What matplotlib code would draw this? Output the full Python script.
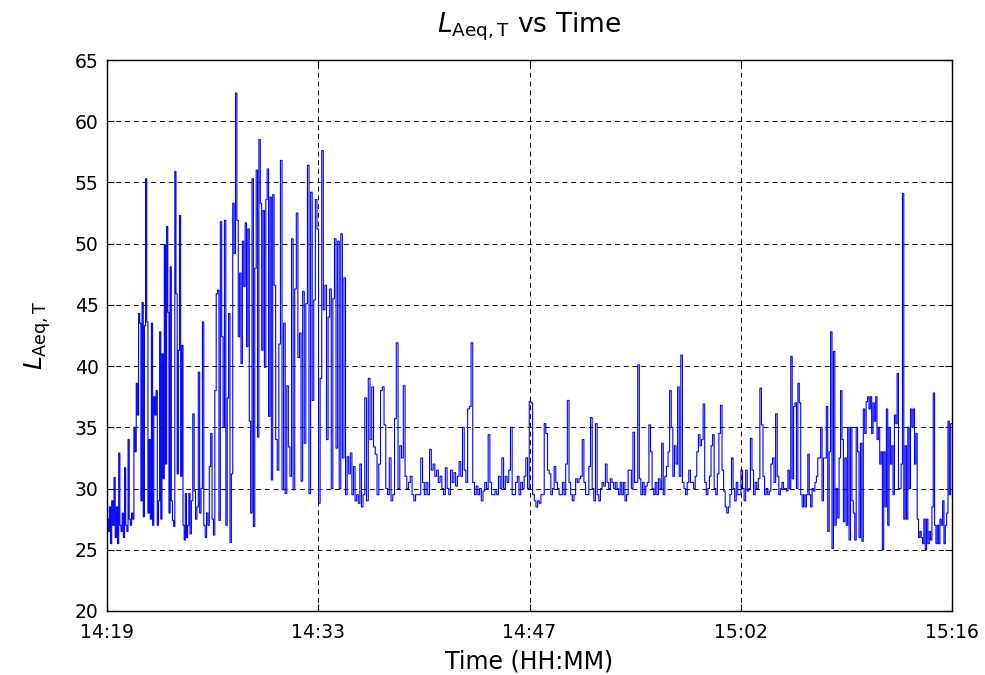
import numpy as np
import matplotlib.pyplot as plt

# LAeq,T readings, split into ten consecutive stretches of the recording.
# seg_edges are the stretch limits in minutes after 14:19.
seg_edges = [0.0, 5.60, 11.27, 17.27, 22.94, 28.60, 34.40, 40.00, 45.74, 51.40, 57.0]

seg1 = [27.5, 26.5, 28.5, 25.5, 29, 27, 30.9, 26, 28.5, 25.5, 32.9, 27, 26.5, 28, 26, 31.7,
        27, 26.5, 34, 27.5, 27, 28, 27.5, 35, 33, 38.6, 36, 44.3, 43.5, 29, 45.2, 27.7, 43.3,
        55.3, 43.6, 28, 34, 27.5, 43.5, 27, 37.5, 36, 38, 27, 29, 42.8, 27.5, 41, 30.8, 49.9,
        32, 51.4, 44.4, 28, 48.1, 29, 27.4, 26.9, 55.9, 45.9, 31.2, 41.3, 52.3, 31, 41.7, 27,
        25.8, 29.6, 26, 27, 29.6]
seg2 = [26.3, 29, 36.1, 29.8, 27.5, 28.5, 39.5, 28, 30, 43.6, 27, 26, 28, 27, 31.8, 34.5,
        27.5, 26.2, 38, 45.9, 46.2, 27.4, 51.8, 42.4, 35, 51.9, 27, 37.4, 44.3, 25.6, 31.2,
        53.3, 49.2, 62.3, 51.9, 42.4, 47.6, 40.2, 50.2, 46.5, 51.7, 41.6, 51.2, 35.5, 28, 55.3,
        26.9, 48, 56, 34.2, 58.5, 53.3, 41.3, 52.7, 39.9, 53.6, 56.1, 35.9, 53.8, 30.7, 54]
seg3 = [46.6, 34, 31.5, 41.8, 56.8, 29.9, 43.5, 29.6, 38.4, 33.4, 31, 50.4, 29.9, 46.3, 52.5,
        40.7, 42.7, 30.6, 46.1, 33.7, 45.1, 56.4, 29.6, 54.2, 37.2, 45.4, 53.6, 51.2, 28.8, 39,
        57.6, 44.6, 46.6, 34, 44, 46.3, 30, 45.5, 50.4, 33.3, 50.2, 30, 50.8, 32.5, 47.2, 29.5,
        32.6, 31.2, 32.9, 29.5, 31.8, 29, 29.5, 28.8, 32, 28.5]
seg4 = [29.5, 37.4, 29, 39, 34, 38.3, 33.4, 32.8, 29.5, 32, 38, 38.3, 35.2, 30, 29.5, 32.5,
        29, 29.5, 35.7, 41.9, 30, 33.5, 32.5, 38.4, 31, 30, 30.5, 31, 29.5, 29, 29.5, 29.5,
        29.5, 32.5, 30.5, 29.5, 30.5, 29.5, 33.2, 31.5, 32, 31, 31.5, 30.5, 31, 30, 29.5, 31.7]
seg5 = [30, 29.5, 31.5, 30.5, 31.3, 30.2, 31, 32.2, 31, 35, 31.5, 30.5, 36.5, 36.7, 41.9,
        30.5, 29.5, 30.2, 29.5, 30, 29, 29.8, 30.5, 30, 34.4, 30.5, 29.5, 29.5, 29.8, 29.5, 31,
        30, 32.5, 30, 31, 30.5, 31.5, 35, 29.5, 29.5, 30.5, 31, 29.5, 30.5, 30, 31, 32.5, 30,
        37.1]
seg6 = [37, 29.5, 29, 28.5, 29, 28.8, 29.5, 29.5, 35.3, 34.5, 31.5, 31.2, 29.5, 30, 31.8,
        30.5, 30, 29.5, 29.5, 30.5, 29.5, 32, 37.2, 30.5, 29.5, 29, 29.5, 30.8, 30.5, 30.8, 31,
        34, 30.5, 29.5, 29.5, 31.8, 35.8, 30, 29, 35.3, 29.5, 29, 30, 30.5, 30.2, 32, 30.5, 30,
        30.8, 30.5, 30, 30.5]
seg7 = [30, 29.5, 30.5, 29.5, 30.5, 29, 29.5, 31.5, 31.5, 30, 34.6, 30.5, 30.5, 40.1, 30.8,
        29.5, 30.5, 29.5, 30.2, 30.5, 35.2, 33, 30, 29.5, 30.5, 29.5, 30.8, 30, 33.7, 29.5, 31,
        31.8, 33, 38, 35, 31, 33.5, 32, 38.3, 31, 40.9, 30.5, 30, 29.5, 30.5, 31.5, 30.5, 30.5,
        30, 31, 33, 34.4]
seg8 = [33.5, 34, 36.9, 30.5, 29.5, 30, 31, 33.5, 34.4, 30, 29.5, 31.2, 34.5, 36.8, 31.5,
        29.8, 28.5, 28, 28.5, 29.5, 32.5, 30, 29, 30.5, 29.5, 29.5, 31.5, 30, 29, 31.5, 29.8,
        30, 34.1, 31.5, 29.5, 30.5, 30, 30.8, 38.2, 35.2, 31, 29.5, 30, 29.5, 29.8, 32, 32.5,
        30.5, 36.1, 31, 29.5, 30, 30.5, 30]
seg9 = [30, 29.8, 31.5, 30, 40.8, 30.8, 36.7, 37, 30, 38.6, 37, 29.5, 28.5, 29.5, 28.5, 29.5,
        32.8, 29.5, 28.5, 30, 29.8, 30.5, 31, 32.5, 32.5, 35, 29, 32.5, 32.5, 36.7, 26.5, 33,
        42.8, 25.1, 41.2, 27, 30, 27.6, 32.5, 38, 34, 27.3, 32.5, 27, 35, 25.8, 35, 29, 28,
        25.8, 35, 33, 26, 33.7, 25.7, 36.5, 34.5, 37.1, 37.5]
seg10 = [36.5, 37.5, 34.5, 37, 35.5, 37.5, 34, 35, 32, 33, 25, 33, 28.5, 36.5, 27, 35, 32,
         33.5, 29.5, 36, 35.3, 39.4, 30, 30, 32, 54.1, 27.5, 33.5, 27.5, 35, 30, 36.5, 35, 36.5,
         32, 34.5, 27.5, 26, 26.5, 26, 25.5, 27.5, 25, 27.5, 25.5, 26.5, 25.8, 28.5, 37.8, 27,
         25.5, 27, 25.5, 27.5, 27, 29, 25.5, 27, 28, 35.5, 29.5, 35.3]

segments = [seg1, seg2, seg3, seg4, seg5, seg6, seg7, seg8, seg9, seg10]

x_ticklabels = ["14:19", "14:33", "14:47", "15:02", "15:16"]
y_ticks = [20, 25, 30, 35, 40, 45, 50, 55, 60, 65]

# build time axis for each stretch
t_all = []
v_all = []
for i, seg in enumerate(segments):
    t_all.append(np.linspace(seg_edges[i], seg_edges[i + 1], len(seg), endpoint=False))
    v_all.append(seg)
t = np.concatenate(t_all + [[seg_edges[-1]]])
v = np.concatenate(v_all + [[segments[-1][-1]]])

fig = plt.figure(figsize=(9.85, 6.75), dpi=100)
ax = fig.add_axes([107 / 985, 1 - 611 / 675, 845 / 985, 551 / 675])

ax.plot(t, v, color="#0000ff", linewidth=0.8, drawstyle="steps-post")

ax.set_xlim(seg_edges[0], seg_edges[-1])
ax.set_ylim(20, 65)
ax.set_xticks(np.linspace(seg_edges[0], seg_edges[-1], len(x_ticklabels)))
ax.set_xticklabels(x_ticklabels)
ax.set_yticks(y_ticks)
ax.tick_params(direction="in", top=True, right=True, length=5, width=0.8,
               labelsize=13.5)
ax.tick_params(axis="x", pad=9)
ax.tick_params(axis="y", pad=6)
ax.grid(True, color="k", linestyle=(0, (5, 4)), linewidth=0.7)
for s in ax.spines.values():
    s.set_linewidth(1.0)
    s.set_color("k")

ax.set_title(r"$L_{\mathrm{Aeq,T}}$ vs Time", fontsize=19, pad=20)
ax.set_xlabel("Time (HH:MM)", fontsize=17, labelpad=5)
ax.set_ylabel(r"$L_{\mathrm{Aeq,T}}$", fontsize=18, labelpad=16)

fig.savefig("out.png", dpi=100)
